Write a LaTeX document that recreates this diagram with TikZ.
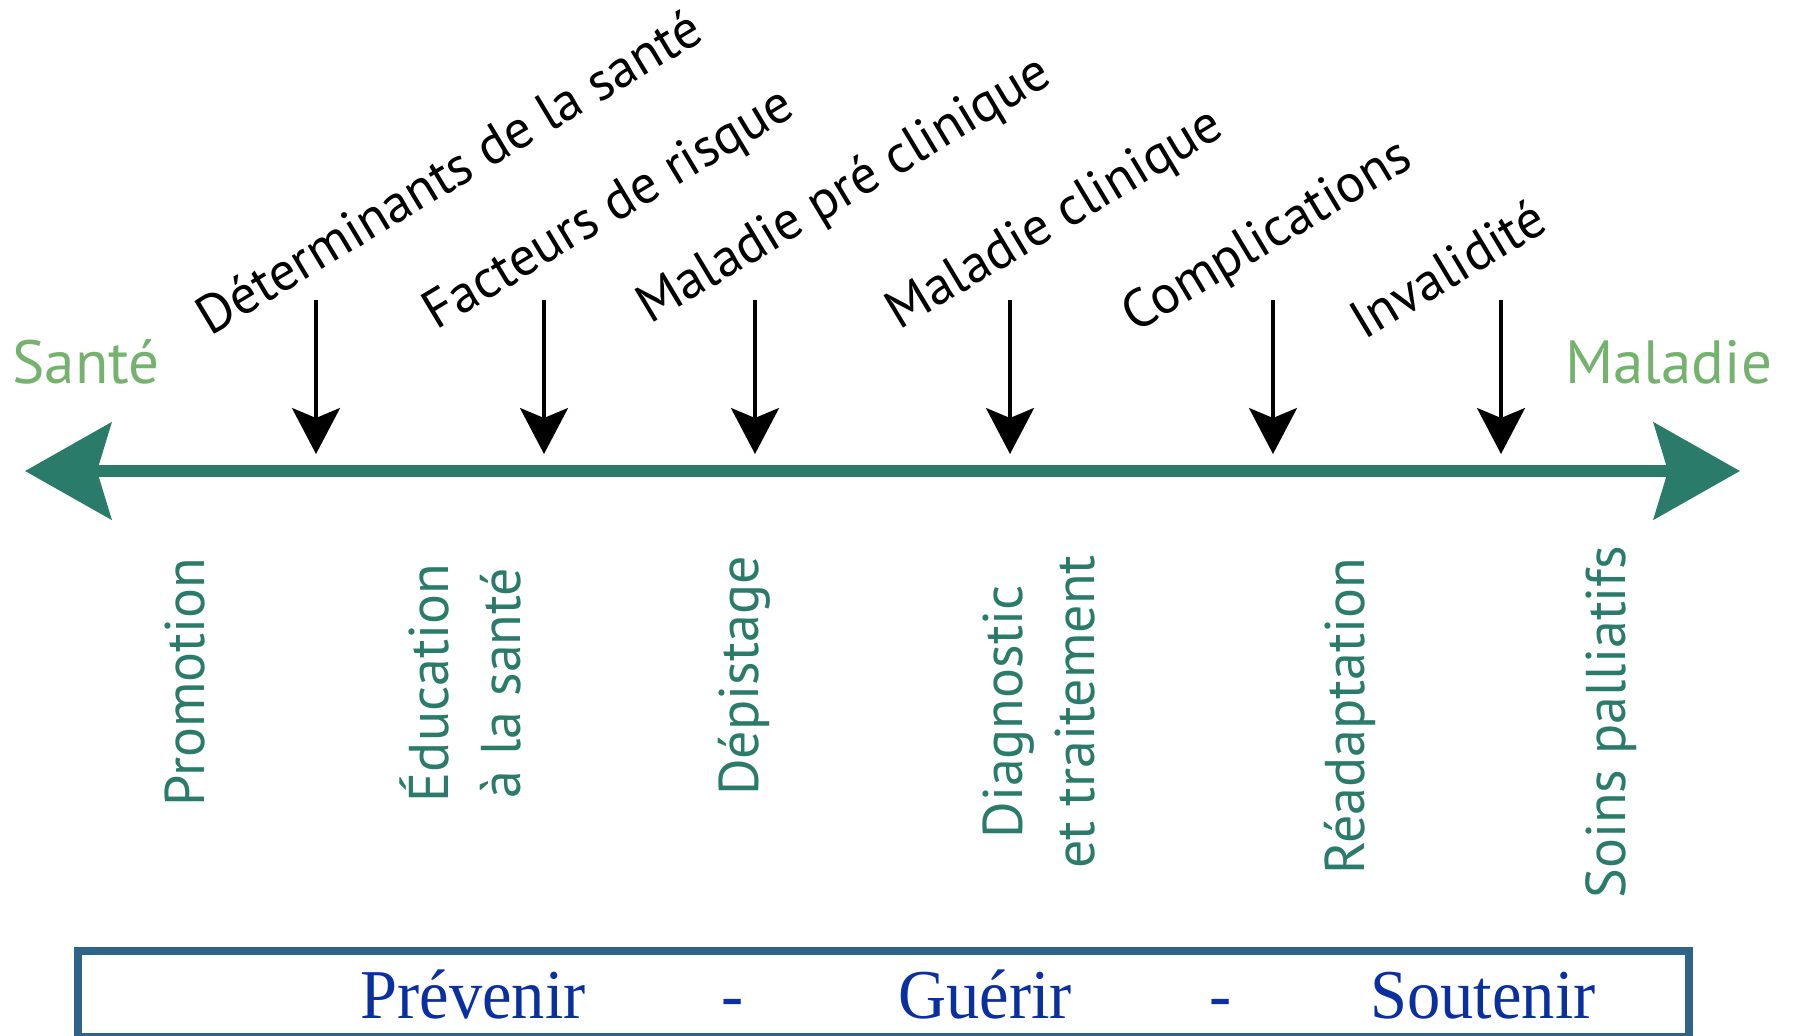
\documentclass[tikz,border=0pt]{standalone}
\usepackage{fontspec}
\setmainfont{PT Sans}
\newfontfamily\mottofont{Liberation Serif}
\usetikzlibrary{
  arrows.meta,
  positioning
}
\definecolor{axisgreen}{HTML}{2A7B6A}
\definecolor{polegreen}{HTML}{74B26E}
\definecolor{frameblue}{HTML}{2E6487}
\definecolor{mottoblue}{HTML}{0A2FA0}

\begin{document}
\begin{tikzpicture}[
  x=0.5pt, y=-0.5pt,
  stage/.style={rotate=31, anchor=base west, inner sep=0pt,
    font=\fontsize{27}{32}\selectfont},
  action/.style={rotate=90, align=center, text=axisgreen, inner sep=0pt,
    font=\fontsize{28}{36}\selectfont},
  pole/.style={anchor=base west, text=polegreen, inner sep=0pt,
    font=\fontsize{30.5}{34}\selectfont},
  motto/.style={anchor=base west, text=mottoblue, inner sep=0pt, xscale=0.95,
    font=\mottofont\fontsize{35}{40}\selectfont},
  marker/.style={-{Stealth[length=23pt,width=24pt,inset=5pt]}, line width=1.6pt},
]
\useasboundingbox (0,0) rectangle (1793,1035);

% axis
\coordinate (sante-end) at (25,471);
\coordinate (maladie-end) at (1740,471);
\draw[axisgreen, line width=6pt,
  {Stealth[length=43pt,width=48pt,inset=7pt]}-{Stealth[length=43pt,width=48pt,inset=7pt]}]
  (sante-end) -- (maladie-end);
\node[pole] (sante) at (12,383) {Santé};
\node[pole] (maladie) at (1565,383) {Maladie};

% stages of the disease
\node[stage] (determinants) at (210,337) {Déterminants de la santé};
\node[stage] (facteurs) at (436,331) {Facteurs de risque};
\node[stage] (preclinique) at (650,325) {Maladie pré clinique};
\node[stage] (clinique) at (899,331) {Maladie clinique};
\node[stage] (complications) at (1135,334) {Complications};
\node[stage] (invalidite) at (1364,341) {Invalidité};

\coordinate (m1-top) at (316,300); \coordinate (m1-tip) at (316,454);
\coordinate (m2-top) at (544,300); \coordinate (m2-tip) at (544,454);
\coordinate (m3-top) at (755,300); \coordinate (m3-tip) at (755,454);
\coordinate (m4-top) at (1010,300); \coordinate (m4-tip) at (1010,454);
\coordinate (m5-top) at (1273,300); \coordinate (m5-tip) at (1273,454);
\coordinate (m6-top) at (1501,300); \coordinate (m6-tip) at (1501,454);
\draw[marker] (m1-top) -- (m1-tip);
\draw[marker] (m2-top) -- (m2-tip);
\draw[marker] (m3-top) -- (m3-tip);
\draw[marker] (m4-top) -- (m4-tip);
\draw[marker] (m5-top) -- (m5-tip);
\draw[marker] (m6-top) -- (m6-tip);

% actions
\node[action] (promotion) at (185,682) {Promotion};
\node[action] (education) at (460,683) {Éducation\\à la santé};
\node[action] (depistage) at (744,676) {Dépistage};
\node[action] (diagnostic) at (1039,712) {Diagnostic\\et traitement};
\node[action] (readaptation) at (1350,716) {Réadaptation};
\node[action] (palliatifs) at (1611,722) {Soins palliatifs};

% bottom frame
\draw[frameblue, line width=4pt] (78,951) rectangle (1689,1037);
\node[motto] (prevenir) at (360,1018) {Prévenir};
\node[motto, anchor=base] (dash1) at (733,1018) {-};
\node[motto] (guerir) at (898,1018) {Guérir};
\node[motto, anchor=base] (dash2) at (1221,1018) {-};
\node[motto] (soutenir) at (1370,1018) {Soutenir};
\end{tikzpicture}
\end{document}
